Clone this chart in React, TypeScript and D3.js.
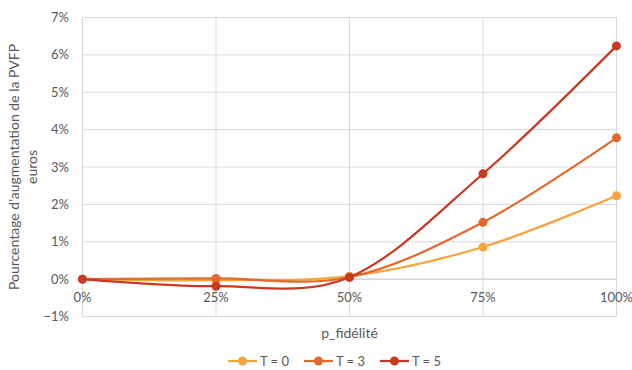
import React from "react";
import * as d3 from "d3";

const categories = [0, 0.25, 0.5, 0.75, 1];
const seriesNames = ["T = 0", "T = 3", "T = 5"];
const seriesT0 = [0, -0.0003, 0.0008, 0.0086, 0.0223];
const seriesT3 = [0, 0.0002, 0.0005, 0.0152, 0.0378];
const seriesT5 = [0, -0.0019, 0.0005, 0.0282, 0.0624];
const yTicks = [-0.01, 0, 0.01, 0.02, 0.03, 0.04, 0.05, 0.06, 0.07];
const colors = ["#F5A540", "#E2692D", "#C93A22"];

export default function App() {
  const W = 632, H = 370;
  const x = d3.scaleLinear().domain([0, 1]).range([82.5, 616.5]);
  const y = d3.scaleLinear().domain([-0.01, 0.07]).range([316.5, 17.5]);
  const series = [seriesT0, seriesT3, seriesT5];
  const line = d3
    .line<number>()
    .x((_, i) => x(categories[i]))
    .y((d) => y(d))
    .curve(d3.curveCatmullRom.alpha(0));
  const font = "Lato, 'Open Sans', sans-serif";
  const pct = d3.format(".0%");
  const legendX = [228, 304, 380];
  return (
    <svg width={W} height={H} style={{ position: "absolute", left: 0, top: 0, background: "#fff" }} fontFamily={font}>
      {yTicks.map((t) => (
        <line key={"h" + t} x1={x(0)} x2={x(1)} y1={y(t)} y2={y(t)} stroke={t === 0 ? "#bfbfbf" : "#d9d9d9"} strokeWidth={1} />
      ))}
      {categories.map((c) => (
        <line key={"v" + c} x1={x(c)} x2={x(c)} y1={y(0.07)} y2={y(-0.01)} stroke="#d9d9d9" strokeWidth={1} />
      ))}
      {yTicks.map((t) => (
        <text key={"yl" + t} x={69} y={y(t)} dy="0.35em" textAnchor="end" fontSize={13} fill="#595959">
          {pct(t)}
        </text>
      ))}
      {categories.map((c) => (
        <text key={"xl" + c} x={x(c)} y={y(0) + 23} textAnchor="middle" fontSize={13} fill="#595959">
          {pct(c)}
        </text>
      ))}
      {series.map((s, i) => (
        <g key={"s" + i}>
          <path d={line(s) || ""} fill="none" stroke={colors[i]} strokeWidth={2.25} />
          {s.map((v, j) => (
            <circle key={j} cx={x(categories[j])} cy={y(v)} r={4.5} fill={colors[i]} />
          ))}
        </g>
      ))}
      <text transform={`translate(19,167) rotate(-90)`} textAnchor="middle" fontSize={14} fill="#595959">
        Pourcentage d'augmentation de la PVFP
      </text>
      <text transform={`translate(37,167) rotate(-90)`} textAnchor="middle" fontSize={14} fill="#595959">
        euros
      </text>
      <text x={349.5} y={338} textAnchor="middle" fontSize={14} fill="#595959">
        p_fidélité
      </text>
      {seriesNames.map((n, i) => (
        <g key={"lg" + i}>
          <line x1={legendX[i]} x2={legendX[i] + 29} y1={361} y2={361} stroke={colors[i]} strokeWidth={2.25} />
          <circle cx={legendX[i] + 14.5} cy={361} r={4.5} fill={colors[i]} />
          <text x={legendX[i] + 32} y={361} dy="0.35em" fontSize={13} fill="#595959">
            {n}
          </text>
        </g>
      ))}
    </svg>
  );
}
